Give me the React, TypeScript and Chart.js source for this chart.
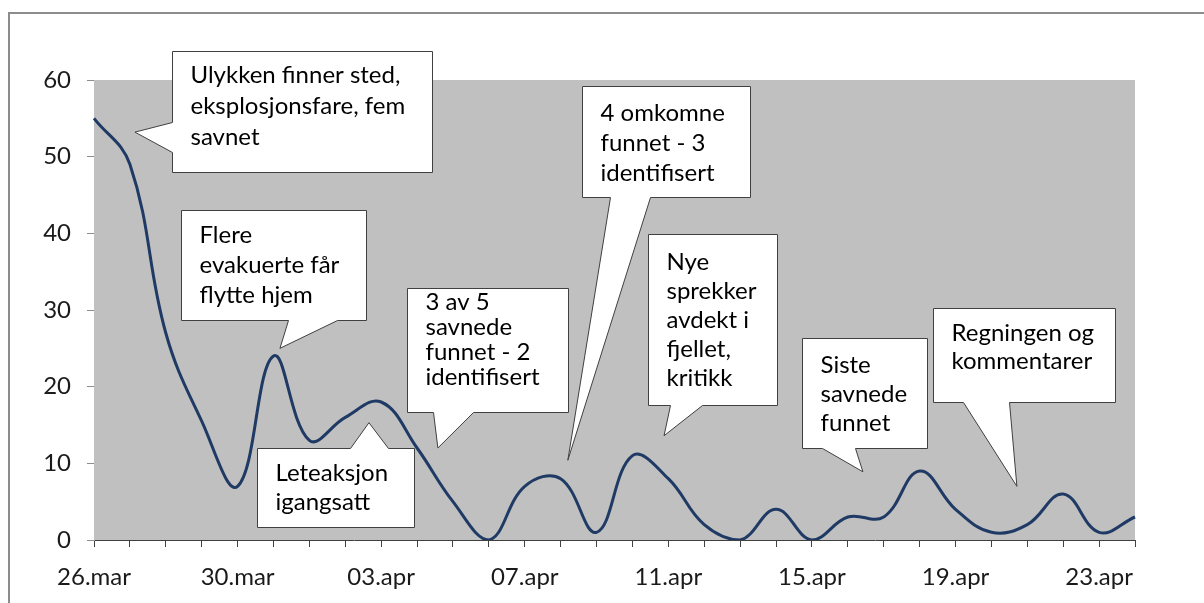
import React, { useEffect, useRef } from 'react';
import { Chart, registerables } from 'chart.js';

Chart.register(...registerables);

// ---- data ----
const dates: string[] = [
  '26.mar', '27.mar', '28.mar', '29.mar', '30.mar', '31.mar',
  '01.apr', '02.apr', '03.apr', '04.apr', '05.apr', '06.apr', '07.apr', '08.apr',
  '09.apr', '10.apr', '11.apr', '12.apr', '13.apr', '14.apr', '15.apr', '16.apr',
  '17.apr', '18.apr', '19.apr', '20.apr', '21.apr', '22.apr', '23.apr', '24.apr',
];
const values: number[] = [
  55, 49, 27, 15.5, 7, 24, 13, 16, 18, 12, 5, 0, 7, 8, 1,
  11, 8, 2, 0, 4, 0, 3, 3, 9, 4, 1, 2, 6, 1, 3,
];
const yMin = 0;
const yMax = 60;
const yStep = 10;
const labelEvery = 4;

// ---- callouts (anchored in data units: x = day index, y = value) ----
type Callout = {
  lines: string[];
  box: [number, number, number, number]; // iLeft, vTop, iRight, vBottom
  side: 'left' | 'top' | 'bottom';
  base: [number, number];
  tip: [number, number];
  firstLine: number;
  lineHeight: number;
};

const callouts: Callout[] = [
  { lines: ['Ulykken finner sted,', 'eksplosjonsfare, fem', 'savnet'], box: [2.17, 63.8, 9.41, 48.0], side: 'left', base: [54.5, 50.6], tip: [1.14, 53.2], firstLine: 24, lineHeight: 31 },
  { lines: ['Flere', 'evakuerte får', 'flytte hjem'], box: [2.42, 43.0, 7.58, 28.7], side: 'bottom', base: [5.4, 6.77], tip: [5.18, 25.0], firstLine: 25, lineHeight: 30 },
  { lines: ['Leteaksjon', 'igangsatt'], box: [4.54, 12.0, 8.91, 1.7], side: 'top', base: [7.13, 8.19], tip: [7.66, 15.3], firstLine: 25, lineHeight: 29 },
  { lines: ['3 av 5', 'savnede', 'funnet - 2', 'identifisert'], box: [8.72, 32.9, 13.2, 16.7], side: 'bottom', base: [9.44, 10.56], tip: [9.58, 12.0], firstLine: 14, lineHeight: 25 },
  { lines: ['4 omkomne', 'funnet - 3', 'identifisert'], box: [13.59, 59.2, 18.27, 44.7], side: 'bottom', base: [14.37, 15.49], tip: [13.2, 10.4], firstLine: 27, lineHeight: 30 },
  { lines: ['Nye', 'sprekker', 'avdekt i', 'fjellet,', 'kritikk'], box: [15.43, 39.9, 19.03, 17.6], side: 'bottom', base: [16.04, 16.94], tip: [15.88, 13.6], firstLine: 28, lineHeight: 29 },
  { lines: ['Siste', 'savnede', 'funnet'], box: [19.72, 26.3, 23.2, 12.0], side: 'bottom', base: [20.28, 21.2], tip: [21.42, 8.9], firstLine: 27, lineHeight: 29 },
  { lines: ['Regningen og', 'kommentarer'], box: [23.37, 30.3, 28.44, 18.0], side: 'bottom', base: [24.21, 25.49], tip: [25.71, 7.0], firstLine: 25, lineHeight: 28 },
];

const FONT = 'Lato, "Open Sans", sans-serif';

const plotBg = {
  id: 'plotBg',
  beforeDatasetsDraw(chart: any) {
    const { ctx, chartArea } = chart;
    ctx.save();
    ctx.fillStyle = '#c0c0c0';
    ctx.fillRect(chartArea.left, chartArea.top, chartArea.right - chartArea.left, chartArea.bottom - chartArea.top);
    ctx.restore();
  },
};

const calloutPlugin = {
  id: 'callouts',
  afterDatasetsDraw(chart: any) {
    const { ctx } = chart;
    const xs = chart.scales.x;
    const ys = chart.scales.y;
    const px = (v: number) => Math.round(xs.getPixelForValue(v)) + 0.5;
    const py = (v: number) => Math.round(ys.getPixelForValue(v)) + 0.5;
    ctx.save();
    for (const c of callouts) {
      const L = px(c.box[0]);
      const T = py(c.box[1]);
      const R = px(c.box[2]);
      const B = py(c.box[3]);
      const tx = xs.getPixelForValue(c.tip[0]);
      const ty = ys.getPixelForValue(c.tip[1]);
      ctx.beginPath();
      if (c.side === 'bottom') {
        const b1 = px(c.base[0]);
        const b2 = px(c.base[1]);
        ctx.moveTo(L, T);
        ctx.lineTo(R, T);
        ctx.lineTo(R, B);
        ctx.lineTo(b2, B);
        ctx.lineTo(tx, ty);
        ctx.lineTo(b1, B);
        ctx.lineTo(L, B);
      } else if (c.side === 'top') {
        const b1 = px(c.base[0]);
        const b2 = px(c.base[1]);
        ctx.moveTo(L, T);
        ctx.lineTo(b1, T);
        ctx.lineTo(tx, ty);
        ctx.lineTo(b2, T);
        ctx.lineTo(R, T);
        ctx.lineTo(R, B);
        ctx.lineTo(L, B);
      } else {
        const bTop = py(c.base[0]);
        const bBot = py(c.base[1]);
        ctx.moveTo(L, T);
        ctx.lineTo(R, T);
        ctx.lineTo(R, B);
        ctx.lineTo(L, B);
        ctx.lineTo(L, bBot);
        ctx.lineTo(tx, ty);
        ctx.lineTo(L, bTop);
      }
      ctx.closePath();
      ctx.fillStyle = '#ffffff';
      ctx.fill();
      ctx.lineWidth = 1;
      ctx.strokeStyle = '#404040';
      ctx.stroke();

      ctx.fillStyle = '#000000';
      ctx.font = `24px ${FONT}`;
      ctx.textAlign = 'left';
      ctx.textBaseline = 'middle';
      c.lines.forEach((line, k) => {
        ctx.fillText(line, L + 18, T + c.firstLine + k * c.lineHeight);
      });
    }
    ctx.restore();
  },
};

export default function App() {
  const canvasRef = useRef<HTMLCanvasElement | null>(null);

  useEffect(() => {
    const canvas = canvasRef.current;
    if (!canvas) return;
    const chart = new Chart(canvas, {
      type: 'line',
      data: {
        labels: dates,
        datasets: [
          {
            data: values,
            borderColor: '#1f3a64',
            borderWidth: 3,
            pointRadius: 0,
            tension: 0.4,
            fill: false,
          },
        ],
      },
      options: {
        responsive: false,
        animation: false,
        events: [],
        layout: { padding: { left: 0, top: 80, right: 69, bottom: 0 } },
        plugins: {
          legend: { display: false },
          tooltip: { enabled: false },
          title: { display: false },
        },
        scales: {
          x: {
            type: 'category',
            offset: false,
            afterFit: (s: any) => { s.height = 63; },
            grid: {
              display: true,
              drawOnChartArea: false,
              drawTicks: true,
              tickLength: 7,
              color: '#404040',
              offset: false,
            },
            border: { display: true, color: '#404040', width: 1 },
            ticks: {
              autoSkip: false,
              maxRotation: 0,
              minRotation: 0,
              padding: 16,
              color: '#1a1a1a',
              font: { family: FONT, size: 24 },
              callback: (_v: any, i: number) => (i % labelEvery === 0 ? dates[i] : ''),
            },
          },
          y: {
            min: yMin,
            max: yMax,
            afterFit: (s: any) => { s.width = 94; },
            grid: {
              display: true,
              drawOnChartArea: false,
              drawTicks: true,
              tickLength: 7,
              color: '#8c8c8c',
            },
            border: { display: true, color: '#9a9a9a', width: 1 },
            ticks: {
              stepSize: yStep,
              padding: 16,
              color: '#1a1a1a',
              font: { family: FONT, size: 24 },
            },
          },
        },
      },
      plugins: [plotBg, calloutPlugin],
    });
    return () => chart.destroy();
  }, []);

  return (
    <div style={{ position: 'fixed', left: 0, top: 0, width: 1204, height: 603, overflow: 'hidden', background: '#ffffff' }}>
      <div
        style={{
          position: 'absolute',
          left: 8,
          top: 12,
          width: 1300,
          height: 700,
          borderLeft: '2px solid #8c8c8c',
          borderTop: '2px solid #8c8c8c',
        }}
      />
      <canvas
        ref={canvasRef}
        width={1204}
        height={603}
        style={{ position: 'absolute', left: 0, top: 0, width: 1204, height: 603 }}
      />
    </div>
  );
}
